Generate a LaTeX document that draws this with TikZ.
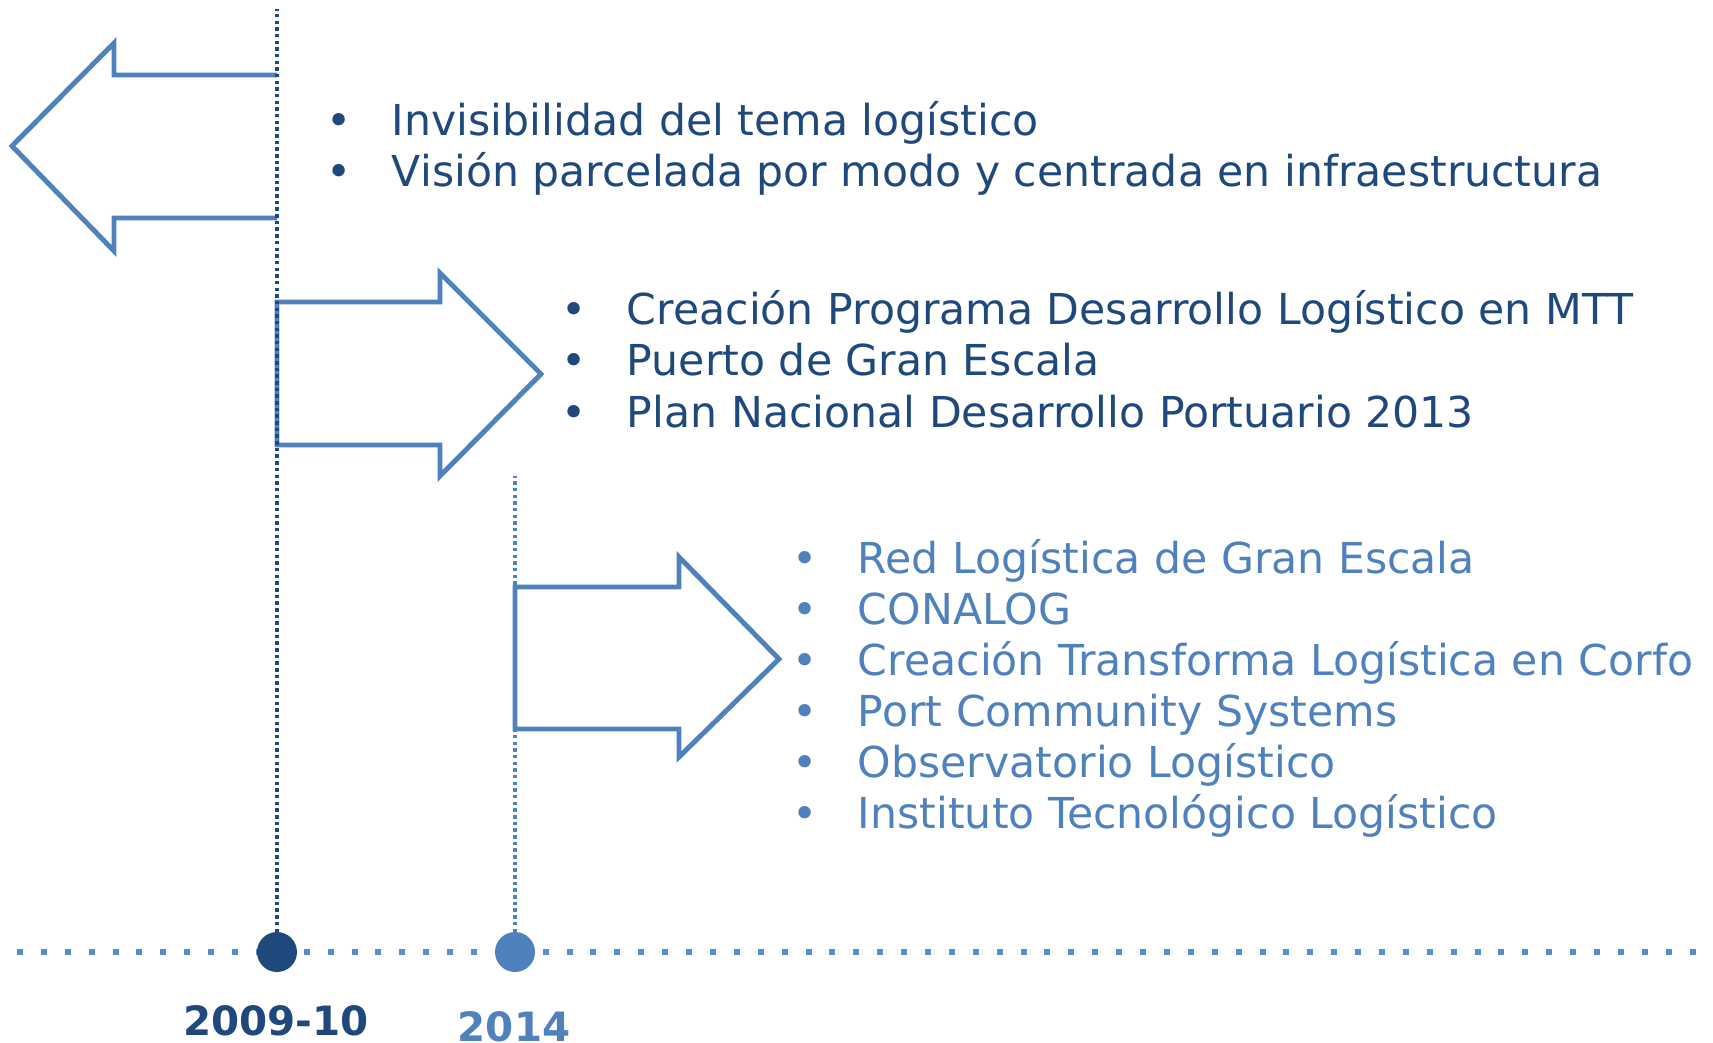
\documentclass[tikz,border=0pt]{standalone}
\usepackage{fontspec}
\setmainfont{DejaVu Sans}
\definecolor{darkblue}{HTML}{1F497D}
\definecolor{lightblue}{HTML}{4F81BD}
\definecolor{dotblue}{HTML}{558ED5}
\newcommand{\blt}{\makebox[1.32cm][l]{•}}
\begin{document}
\begin{tikzpicture}[x=0.02cm,y=-0.02cm,inner sep=0pt,outer sep=0pt,
arrowshape/.style={draw=lightblue,line width=2.8pt,line join=miter},
yearline/.style={line width=2pt,dash pattern=on 2pt off 1.8pt},
yeardot/.style={circle,minimum size=0.8cm},
darktext/.style={anchor=base west,text=darkblue,font=\fontsize{24.25}{29}\selectfont},
lighttext/.style={anchor=base west,text=lightblue,font=\fontsize{24.25}{29}\selectfont},
yearlabel/.style={font=\fontsize{23}{27}\selectfont\bfseries}]
\useasboundingbox (0,0) rectangle (1713,1042);
% timeline
\coordinate (tlstart) at (17,952);
\coordinate (tlend) at (1713,952);
\draw[dotblue,line width=3.4pt,dash pattern=on 3.4pt off 10.2pt] (tlstart) -- (tlend);
% arrows
\draw[arrowshape] (277,75) -- (114,75) -- (114,43) -- (12,146) -- (114,251) -- (114,218) -- (277,218);
\draw[arrowshape] (277,302) -- (440,302) -- (440,273) -- (541,374) -- (440,476) -- (440,445) -- (277,445) -- cycle;
\draw[arrowshape] (515,587) -- (679,587) -- (679,557) -- (779,659) -- (679,757) -- (679,729) -- (515,729) -- cycle;
% years
\draw (277,952) node[yeardot,fill=darkblue] (c2009) {};
\draw (515,952) node[yeardot,fill=lightblue] (c2014) {};
\coordinate (top2009) at (277,9);
\coordinate (top2014) at (515,476);
\draw[yearline,darkblue] (c2009) -- (top2009);
\draw[yearline,lightblue] (c2014) -- (top2014);
\node[yearlabel,text=darkblue] (l2009) at (276,1021) {2009-10};
\node[yearlabel,text=lightblue] (l2014) at (514,1027) {2014};
% texts
\node[darktext] (t11) at (326,135) {\blt Invisibilidad del tema logístico};
\node[darktext] (t12) at (326,186) {\blt Visión parcelada por modo y centrada en infraestructura};
\node[darktext] (t21) at (561,324) {\blt Creación Programa Desarrollo Logístico en MTT};
\node[darktext] (t22) at (561,375) {\blt Puerto de Gran Escala};
\node[darktext] (t23) at (561,427) {\blt Plan Nacional Desarrollo Portuario 2013};
\node[lighttext] (t31) at (792,573) {\blt Red Logística de Gran Escala};
\node[lighttext] (t32) at (792,624) {\blt CONALOG};
\node[lighttext] (t33) at (792,675) {\blt Creación Transforma Logística en Corfo};
\node[lighttext] (t34) at (792,726) {\blt Port Community Systems};
\node[lighttext] (t35) at (792,777) {\blt Observatorio Logístico};
\node[lighttext] (t36) at (792,828) {\blt Instituto Tecnológico Logístico};
\end{tikzpicture}
\end{document}
